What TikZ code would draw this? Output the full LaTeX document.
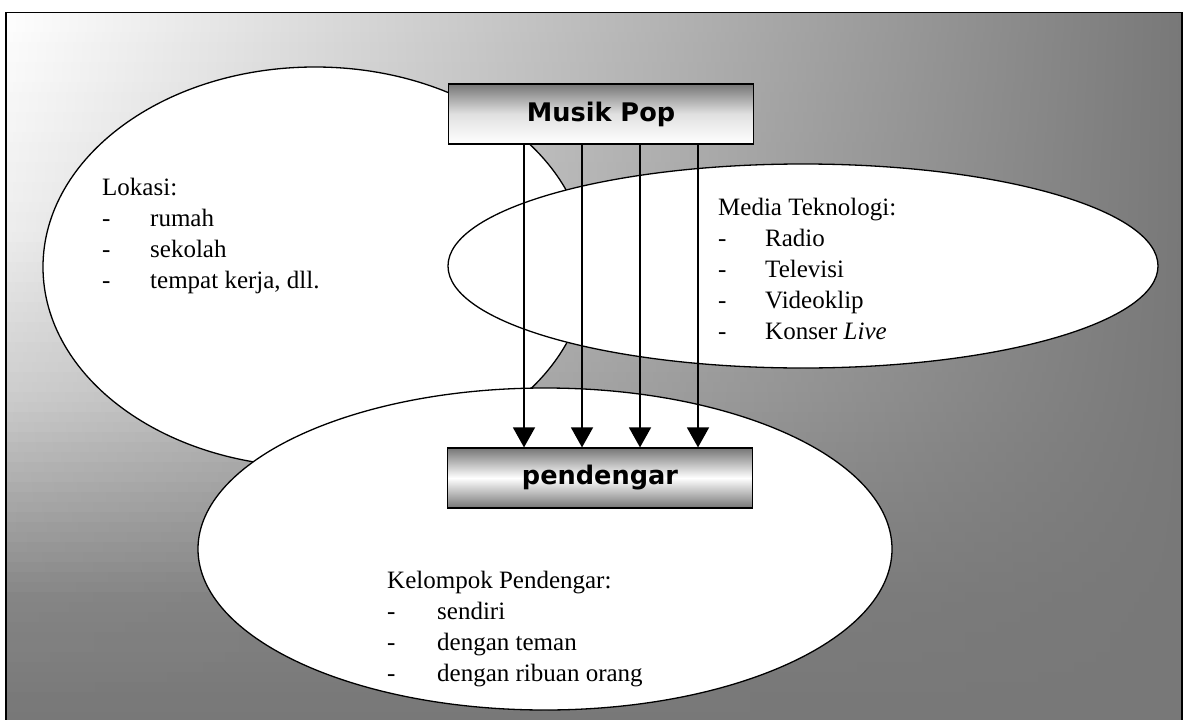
\documentclass[tikz,border=0pt]{standalone}
\usepackage{fontspec}
\setmainfont{Liberation Serif}
\newfontfamily\boxfont{DejaVu Sans}
\usetikzlibrary{arrows.meta,shapes.geometric}
\definecolor{bggray}{RGB}{120,120,120}
\definecolor{boxdark}{RGB}{118,118,118}
\begin{document}
\begin{tikzpicture}[x=1pt,y=-1pt,
  ell/.style={ellipse, draw=black, line width=1.3pt, fill=white, inner sep=0pt},
  txt/.style={anchor=base west, inner sep=0pt, font=\fontsize{25}{30}\selectfont},
  bx/.style={draw=black, line width=1.2pt, minimum width=305pt, minimum height=60pt, inner sep=0pt,
             font=\boxfont\bfseries\fontsize{25.6}{30}\selectfont},
  arr/.style={line width=1.5pt, -{Triangle[width=22pt,length=20pt]}},
  frame/.style={draw=black, line width=1.6pt}]
\useasboundingbox (0,0) rectangle (1189,720);
% background gradient
\foreach \i in {0,...,70} {
  \pgfmathsetmacro{\ya}{12.5+\i*10}
  \pgfmathsetmacro{\yb}{min(720,\ya+10.6)}
  \pgfmathsetmacro{\t}{(\ya+5-12.5)/707.5}
  \pgfmathsetmacro{\gg}{\t<0.31 ? 1-0.42*\t : (\t<0.55 ? 0.87-1.04*(\t-0.31) : (\t<0.83 ? 0.62-1.857*(\t-0.55) : max(0,0.1-0.588*(\t-0.83))))}
  \pgfmathtruncatemacro{\g}{100*\gg}
  \shade[left color=white!\g!bggray, right color=bggray] (6,\ya) rectangle (1182,\yb);
}
\draw[frame] (6,740) -- (6,12.5) -- (1182,12.5) -- (1182,740);
% ellipses
\node[ell, minimum width=544pt, minimum height=400pt] (lok) at (315,267) {};
\node[ell, minimum width=710pt, minimum height=204pt] (med) at (803,266) {};
\node[ell, minimum width=694pt, minimum height=322pt] (kel) at (545,549) {};
% Lokasi
\node[txt] (l0) at (102,195) {Lokasi:};
\node[txt] (l1d) at (102,226) {-};
\node[txt] (l1) at (150,226) {rumah};
\node[txt] (l2d) at (102,257) {-};
\node[txt] (l2) at (150,257) {sekolah};
\node[txt] (l3d) at (102,288) {-};
\node[txt] (l3) at (150,288) {tempat kerja, dll.};
% Media Teknologi
\node[txt] (m0) at (718,215) {Media Teknologi:};
\node[txt] (m1d) at (718,246) {-};
\node[txt] (m1) at (765,246) {Radio};
\node[txt] (m2d) at (718,277) {-};
\node[txt] (m2) at (765,277) {Televisi};
\node[txt] (m3d) at (718,308) {-};
\node[txt] (m3) at (765,308) {Videoklip};
\node[txt] (m4d) at (718,339) {-};
\node[txt] (m4) at (765,339) {Konser \textit{Live}};
% Kelompok Pendengar
\node[txt] (k0) at (387,588) {Kelompok Pendengar:};
\node[txt] (k1d) at (387,619) {-};
\node[txt] (k1) at (437,619) {sendiri};
\node[txt] (k2d) at (387,650) {-};
\node[txt] (k2) at (437,650) {dengan teman};
\node[txt] (k3d) at (387,681) {-};
\node[txt] (k3) at (437,681) {dengan ribuan orang};
% boxes
\node[bx, top color=boxdark, bottom color=white, middle color=white!88!black] (mp) at (601,114) {Musik Pop};
\node[bx, top color=boxdark, bottom color=boxdark, middle color=white] (pd) at (600,478) {pendengar};
% arrows
\foreach \x in {524,582,640,698}
  \draw[arr] (\x,0 |- mp.south) -- (\x,0 |- pd.north);
\end{tikzpicture}
\end{document}
